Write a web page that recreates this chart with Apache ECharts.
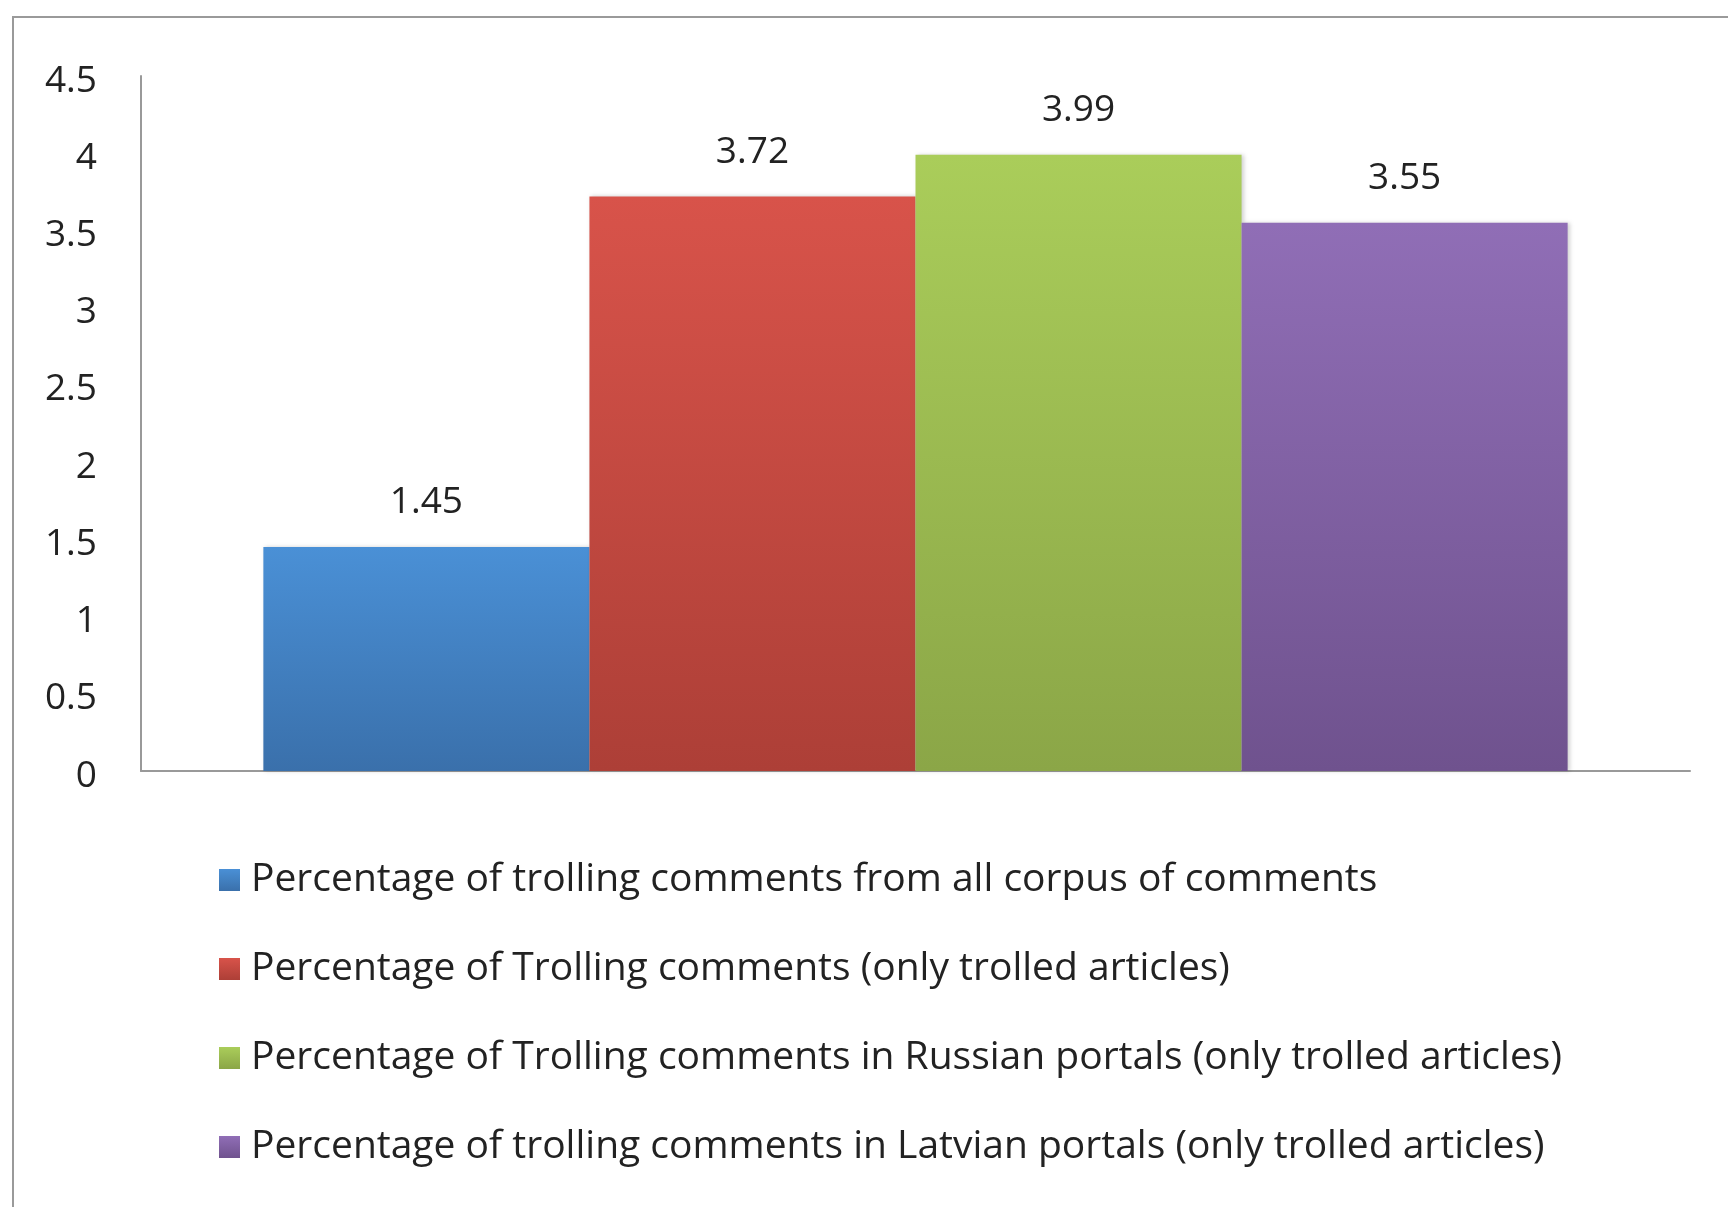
<!DOCTYPE html>
<html>
<head>
<meta charset="utf-8">
<script src="https://cdn.jsdelivr.net/npm/echarts@6/dist/echarts.min.js"></script>
<style>
html,body{margin:0;padding:0;background:#fff;}
#chart{width:1728px;height:1207px;}
</style>
</head>
<body>
<div id="chart"></div>
<script>
const categories = [''];
const seriesNames = [
  'Percentage of trolling comments from all corpus of comments',
  'Percentage of Trolling comments (only trolled articles)',
  'Percentage of Trolling comments in Russian portals (only trolled articles)',
  'Percentage of trolling comments in Latvian portals (only trolled articles)'
];
const values = [1.45, 3.72, 3.99, 3.55];
const yTicks = [0, 0.5, 1, 1.5, 2, 2.5, 3, 3.5, 4, 4.5];

const gradients = [
  ['#4a90d6', '#3a70ab'],
  ['#d8534a', '#ad3f37'],
  ['#aacd5a', '#8ba647'],
  ['#906eb6', '#6f528e']
];
const FONT = '"Open Sans"';

const chart = echarts.init(document.getElementById('chart'));
const series = seriesNames.map((name, i) => ({
  name: name,
  type: 'bar',
  data: [values[i]],
  barGap: '0%',
  barCategoryGap: '15.8%',
  itemStyle: {
    color: new echarts.graphic.LinearGradient(0, 0, 0, 1, [
      {offset: 0, color: gradients[i][0]},
      {offset: 1, color: gradients[i][1]}
    ]),
    shadowBlur: 4,
    shadowOffsetX: 2,
    shadowColor: 'rgba(0,0,0,0.18)'
  },
  label: {
    show: true,
    position: 'top',
    distance: 26,
    fontFamily: FONT,
    fontSize: 37,
    color: '#222',
    formatter: p => String(p.value)
  }
}));

chart.setOption({
  animation: false,
  backgroundColor: '#fff',
  graphic: [{
    type: 'rect',
    shape: {x: 13, y: 17, width: 2000, height: 2000},
    style: {fill: 'none', stroke: '#9a9a9a', lineWidth: 2},
    z: -1
  }],
  grid: {left: 141, right: 38, top: 76, bottom: 436, containLabel: false},
  xAxis: {
    type: 'category',
    data: categories,
    axisLine: {show: true, lineStyle: {color: '#999', width: 2}},
    axisTick: {show: false},
    axisLabel: {show: false}
  },
  yAxis: {
    type: 'value',
    min: yTicks[0],
    max: yTicks[yTicks.length - 1],
    interval: 0.5,
    splitLine: {show: false},
    axisLine: {show: true, lineStyle: {color: '#999', width: 2}},
    axisTick: {show: false},
    axisLabel: {
      margin: 44,
      formatter: v => '{a|' + v + '}',
      rich: {
        a: {
          fontFamily: FONT,
          fontSize: 37,
          color: '#222',
          padding: [10, 0, 0, 0]
        }
      }
    }
  },
  legend: {
    orient: 'vertical',
    left: 214,
    top: 855,
    itemWidth: 21,
    itemHeight: 22,
    itemGap: 49,
    icon: 'rect',
    data: seriesNames,
    textStyle: {
      fontFamily: FONT,
      fontSize: 39,
      lineHeight: 40,
      color: '#222',
      padding: [0, 0, 0, 6]
    }
  },
  series: series
});
</script>
</body>
</html>
